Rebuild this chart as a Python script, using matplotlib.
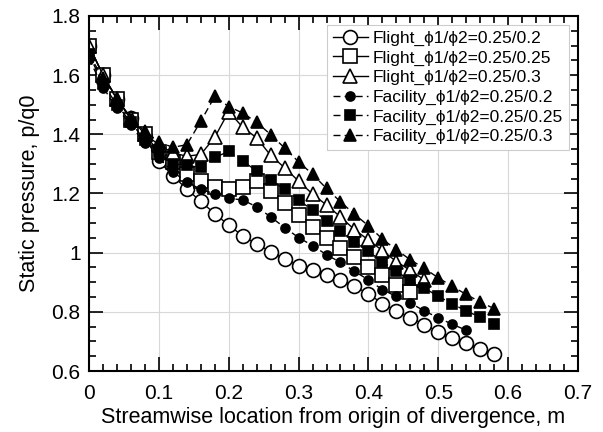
import matplotlib
matplotlib.use("Agg")
import matplotlib.pyplot as plt
from matplotlib.ticker import MultipleLocator
import numpy as np

plt.rcParams['font.family'] = ['Liberation Sans', 'DejaVu Sans']

# streamwise location, m (every 0.02 m)
x_all = np.round(np.arange(0, 0.581, 0.02), 2)

flight_02 = [1.70, 1.60, 1.52, 1.455, 1.39, 1.31, 1.26, 1.215, 1.173, 1.132,
             1.093, 1.057, 1.029, 1.003, 0.979, 0.956, 0.941, 0.924, 0.907, 0.886,
             0.861, 0.828, 0.803, 0.780, 0.757, 0.732, 0.712, 0.693, 0.673, 0.656]
flight_025 = [1.70, 1.60, 1.52, 1.45, 1.40, 1.34, 1.305, 1.265, 1.242, 1.222,
              1.214, 1.221, 1.242, 1.208, 1.169, 1.128, 1.088, 1.051, 1.016, 0.985,
              0.953, 0.923, 0.892, 0.867]
flight_03 = [1.70, 1.60, 1.52, 1.455, 1.40, 1.365, 1.337, 1.326, 1.332, 1.39,
             1.477, 1.424, 1.388, 1.329, 1.287, 1.242, 1.198, 1.161, 1.121, 1.078,
             1.043, 1.007, 0.970, 0.940, 0.908]
facility_02 = [1.656, 1.558, 1.49, 1.43, 1.37, 1.32, 1.273, 1.239, 1.214, 1.199,
               1.184, 1.178, 1.155, 1.121, 1.085, 1.051, 1.024, 0.993, 0.967, 0.937,
               0.908, 0.875, 0.852, 0.830, 0.803, 0.780, 0.758, 0.738]
facility_025 = [1.67, 1.57, 1.50, 1.44, 1.38, 1.34, 1.30, 1.295, 1.288, 1.322,
                1.342, 1.31, 1.276, 1.245, 1.215, 1.178, 1.144, 1.108, 1.073, 1.037,
                1.004, 0.970, 0.937, 0.906, 0.881, 0.852, 0.828, 0.802, 0.783, 0.758]
facility_03 = [1.67, 1.59, 1.52, 1.45, 1.41, 1.374, 1.356, 1.365, 1.444, 1.528,
               1.494, 1.472, 1.441, 1.399, 1.354, 1.307, 1.265, 1.217, 1.172, 1.13,
               1.091, 1.046, 1.010, 0.976, 0.947, 0.915, 0.886, 0.859, 0.833, 0.811]

labels = ["Flight_\u03d51/\u03d52=0.25/0.2", "Flight_\u03d51/\u03d52=0.25/0.25",
          "Flight_\u03d51/\u03d52=0.25/0.3", "Facility_\u03d51/\u03d52=0.25/0.2",
          "Facility_\u03d51/\u03d52=0.25/0.25", "Facility_\u03d51/\u03d52=0.25/0.3"]

xticks = [0, 0.1, 0.2, 0.3, 0.4, 0.5, 0.6, 0.7]
xticklabels = ['0', '0.1', '0.2', '0.3', '0.4', '0.5', '0.6', '0.7']
yticks = [0.6, 0.8, 1.0, 1.2, 1.4, 1.6, 1.8]
yticklabels = ['0.6', '0.8', '1', '1.2', '1.4', '1.6', '1.8']

fig = plt.figure(figsize=(6.03, 4.32), dpi=100)
ax = fig.add_axes([0.1476, 0.1412, 0.8109, 0.8218])

series = [flight_02, flight_025, flight_03, facility_02, facility_025, facility_03]
markers = ['o', 's', '^', 'o', 's', '^']
sizes = [10, 9.5, 10.5, 6.5, 6.5, 8.5]
for i, y in enumerate(series):
    xs = x_all[:len(y)]
    facility = i >= 3
    ax.plot(xs, y, color='black', lw=1.0,
            linestyle=(0, (5, 3)) if facility else '-',
            marker=markers[i], markersize=sizes[i],
            markerfacecolor='black' if facility else 'white',
            markeredgecolor='black', markeredgewidth=1.2, label=labels[i])

ax.set_xlim(0, 0.7)
ax.set_ylim(0.6, 1.8)
ax.set_xticks(xticks)
ax.set_xticklabels(xticklabels)
ax.set_yticks(yticks)
ax.set_yticklabels(yticklabels)
ax.xaxis.set_minor_locator(MultipleLocator(0.02))
ax.yaxis.set_minor_locator(MultipleLocator(0.05))
ax.tick_params(which='both', direction='in', top=True, right=True, labelsize=15, width=1.2)
ax.tick_params(which='major', length=10)
ax.tick_params(which='minor', length=5)
ax.tick_params(axis='x', pad=9)
ax.tick_params(axis='y', pad=6)
ax.grid(True, which='major', color='#d8d8d8', lw=0.8)
ax.set_axisbelow(True)
for s in ax.spines.values():
    s.set_linewidth(1.5)

ax.set_xlabel("Streamwise location from origin of divergence, m", fontsize=15.5, labelpad=3)
ax.set_ylabel("Static pressure, p/q0", fontsize=15.5, labelpad=8)

leg = ax.legend(loc='upper right', fontsize=12.5, frameon=True, fancybox=False,
                edgecolor='#cccccc', framealpha=1, handlelength=2.0,
                handletextpad=0.3, borderpad=0.35, labelspacing=0.25,
                borderaxespad=0.5)
leg.get_frame().set_linewidth(0.8)

fig.savefig("out.png", dpi=100)
